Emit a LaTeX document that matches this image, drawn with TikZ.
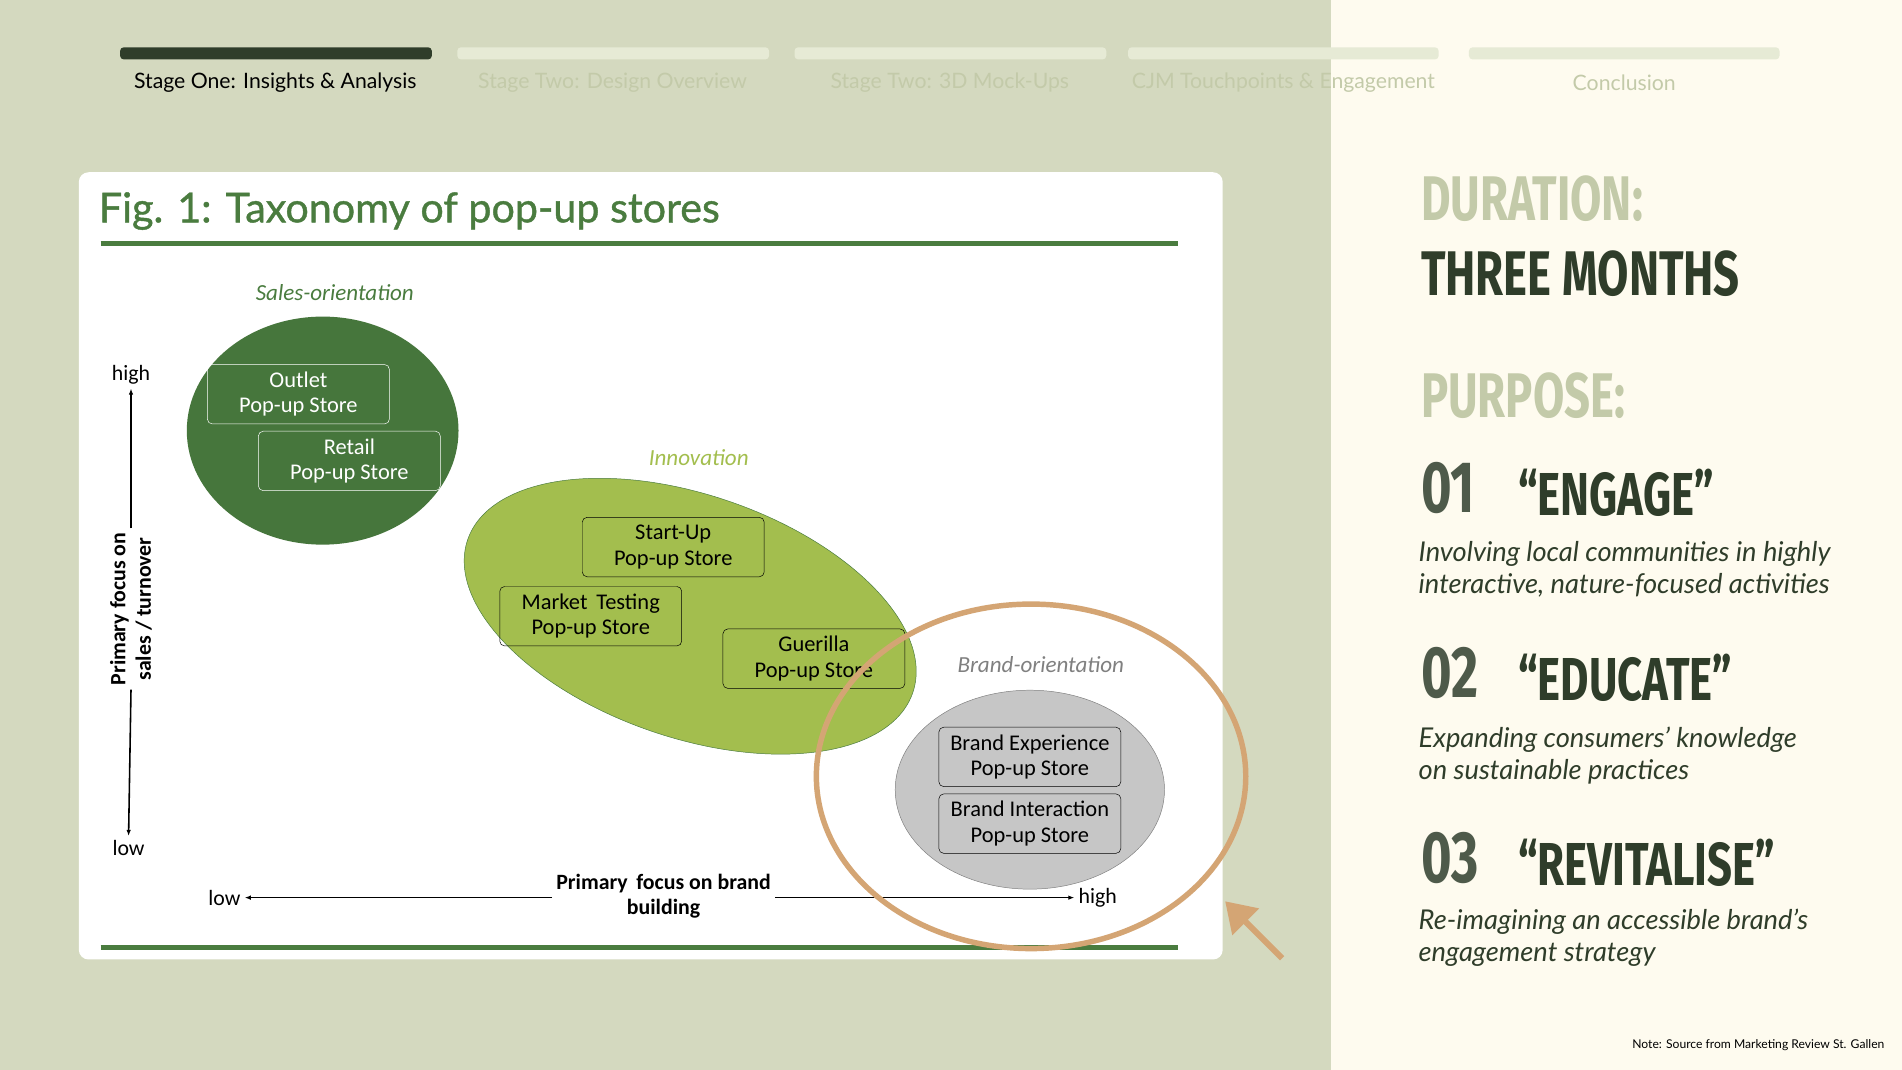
\documentclass[tikz,border=0pt]{standalone}
\usepackage{fontspec}
\setmainfont{Lato}
\newfontfamily\chartfont{Carlito}
\newfontfamily\headfont[FakeStretch=0.72]{Fira Sans Bold}
\usetikzlibrary{positioning,arrows.meta}
\definecolor{bgleft}{HTML}{D4D9BF}
\definecolor{bgright}{HTML}{FEFBEF}
\definecolor{darkgreen}{HTML}{2F3D2A}
\definecolor{palebar}{HTML}{E6EAD5}
\definecolor{paletext}{HTML}{C3CAA9}
\definecolor{figgreen}{HTML}{4A7C3F}
\definecolor{limegreen}{HTML}{A3BE4E}
\definecolor{orangeish}{HTML}{D4A574}
\tikzset{
  stagebar/.style={rounded corners=3pt, fill=palebar},
  stagelabel/.style={font=\fontsize{17.5}{20}\selectfont, text=paletext},
  storebox/.style={draw, rounded corners=4pt, minimum width=150pt, minimum height=49pt, align=center, font=\chartfont\fontsize{18.5}{21}\selectfont, inner sep=0pt},
  grouplabel/.style={font=\chartfont\itshape\fontsize{19}{21}\selectfont},
  axislabel/.style={font=\chartfont\fontsize{18}{21}\selectfont},
  bighead/.style={anchor=west, font=\headfont\fontsize{52}{56}\selectfont},
  numhead/.style={anchor=west, font=\headfont\fontsize{60}{62}\selectfont, text=darkgreen!85!white},
  purposetext/.style={anchor=north west, align=left, font=\itshape\fontsize{22.5}{26}\selectfont, text=darkgreen}
}
\begin{document}
\begin{tikzpicture}[x=1pt,y=-1pt]
        % backgrounds
        \fill[bgleft] (0,0) rectangle (1097,882);
        \fill[bgright] (1097,0) rectangle (1568,882);
        \useasboundingbox (0,0) rectangle (1568,882);

        % progress bars
        \fill[rounded corners=3pt, darkgreen] (99,39) rectangle (356,49);
        \fill[stagebar] (377,39) rectangle (634,49);
        \fill[stagebar] (655,39) rectangle (912,49);
        \fill[stagebar] (930,39) rectangle (1186,49);
        \fill[stagebar] (1211,39) rectangle (1467,49);
        \node[stagelabel, text=black] (s1) at (227,68) {Stage One: Insights \& Analysis};
        \node[stagelabel] (s2) at (505,68) {Stage Two: Design Overview};
        \node[stagelabel] (s3) at (783,68) {Stage Two: 3D Mock-Ups};
        \node[stagelabel] (s4) at (1058,68) {CJM Touchpoints \& Engagement};
        \node[stagelabel] (s5) at (1339,68) {Conclusion};

        % figure card
        \fill[white, rounded corners=8pt] (65,142) rectangle (1008,791);
        \node[anchor=west, text=figgreen, font=\fontsize{34}{36}\selectfont\addfontfeature{FakeBold=1}] (title) at (78,174) {Fig. 1: Taxonomy of pop-up stores};
        \draw[figgreen, line width=4pt] (83,201) -- (971,201);
        \draw[figgreen, line width=4pt] (83,781) -- (971,781);

        % clusters
        \fill[figgreen!95!black] (266,355) ellipse [x radius=112, y radius=94];
        \node[grouplabel, text=figgreen] (sales) at (276,241) {Sales-orientation};
        \node[storebox, draw=white, text=white] (outlet) at (246,325) {Outlet\\Pop-up Store};
        \node[storebox, draw=white, text=white] (retail) at (288,380) {Retail\\Pop-up Store};

        \filldraw[fill=limegreen, draw=figgreen, rotate around={-19:(569,508)}] (569,508) ellipse [x radius=194, y radius=100];
        \node[grouplabel, text=limegreen] (innov) at (576,377) {Innovation};
        \node[storebox] (startup) at (555,451) {Start-Up\\Pop-up Store};
        \node[storebox] (market) at (487,508) {Market\,\ Testing\\Pop-up Store};
        \node[storebox] (guerilla) at (671,543) {Guerilla\\Pop-up Store};

        \filldraw[fill=gray!45, draw=gray] (849,651) ellipse [x radius=111, y radius=82];
        \node[grouplabel, text=gray] (brand) at (858,548) {Brand-orientation};
        \node[storebox] (experience) at (849,624) {Brand Experience\\Pop-up Store};
        \node[storebox] (interaction) at (849,679) {Brand Interaction\\Pop-up Store};

        % axes
        \node[axislabel] (vhigh) at (108,309) {high};
        \node[axislabel] (vlow) at (106,699) {low};
        \node[axislabel, font=\chartfont\bfseries\fontsize{18}{21}\selectfont, rotate=90, align=center] (vtitle) at (108,502) {Primary focus on\\sales / turnover};
        \draw[-{Latex[length=5pt]}, line width=1.3pt] (vtitle.east) -- (vhigh.south);
        \draw[-{Latex[length=5pt]}, line width=1.3pt] (vtitle.west) -- (vlow.north);
        \node[axislabel] (hlow) at (185,740) {low};
        \node[axislabel] (hhigh) at (905,740) {high};
        \node[axislabel, font=\chartfont\bfseries\fontsize{18}{21}\selectfont, align=center] (htitle) at (547,739) {Primary\, focus on brand\\building};
        \draw[-{Latex[length=5pt]}, line width=1.3pt] (htitle.west |- hlow) -- (hlow.east);
        \draw[-{Latex[length=5pt]}, line width=1.3pt] (htitle.east |- hhigh) -- (hhigh.west);

        % highlight
        \draw[orangeish, line width=4.5pt] (850,640) ellipse [x radius=177, y radius=142];
        \coordinate (tailpt) at (1057,790);
        \coordinate (tippt) at (1010,743);
        \draw[orangeish, line width=5pt, -{Triangle[length=24pt, width=30pt]}] (tailpt) -- (tippt);

        % right panel
        \node[bighead, text=paletext] (duration) at (1168,164) {DURATION:};
        \node[bighead, text=darkgreen] (months) at (1168,226) {THREE MONTHS};
        \node[bighead, text=paletext] (purpose) at (1168,326) {PURPOSE:};

        \node[numhead] (n1) at (1168,402) {01};
        \node[bighead, text=darkgreen, font=\headfont\fontsize{50}{54}\selectfont] (p1) at (1248,406) {“ENGAGE”};
        \node[purposetext] (d1) at (1166,443) {Involving local communities in highly\\interactive, nature-focused activities};

        \node[numhead] (n2) at (1168,555) {02};
        \node[bighead, text=darkgreen, font=\headfont\fontsize{50}{54}\selectfont] (p2) at (1248,559) {“EDUCATE”};
        \node[purposetext] (d2) at (1166,596) {Expanding consumers’ knowledge\\on sustainable practices};

        \node[numhead] (n3) at (1168,707) {03};
        \node[bighead, text=darkgreen, font=\headfont\fontsize{50}{54}\selectfont] (p3) at (1248,711) {“REVITALISE”};
        \node[purposetext] (d3) at (1166,746) {Re-imagining an accessible brand’s\\engagement strategy};

        \node[anchor=east, font=\fontsize{10}{12}\selectfont] (note) at (1557,862) {Note: Source from Marketing Review St. Gallen};
      \end{tikzpicture}
\end{document}
